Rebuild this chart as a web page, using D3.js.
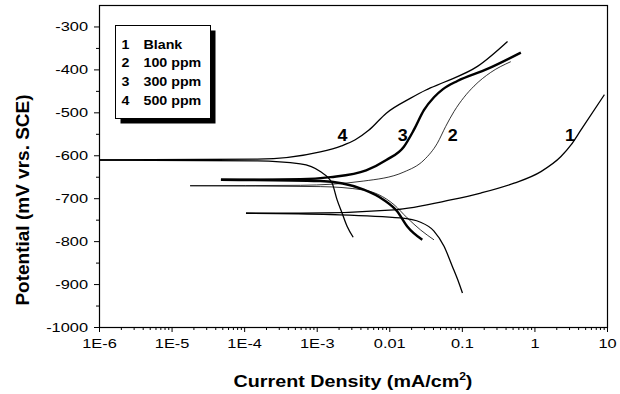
<!DOCTYPE html>
<html>
<head>
<meta charset="utf-8">
<script src="https://cdn.jsdelivr.net/npm/d3@7"></script>
<style>
  body { margin: 0; background: #fff; }
  svg { font-family: "Liberation Sans", Arial, sans-serif; }
</style>
</head>
<body>
<div id="chart"></div>
<script>
// legend / curve labels
const curveIds = ['1', '2', '3', '4'];
const legendLabels = ['Blank', '100 ppm', '300 ppm', '500 ppm'];
const xTickLabels = ['1E-6', '1E-5', '1E-4', '1E-3', '0.01', '0.1', '1', '10'];
const yTicks = [-1000, -900, -800, -700, -600, -500, -400, -300];

// [current density (mA/cm2), potential (mV vs SCE)]
const blankAnodic = [
  [1.06e-4, -735], [6.0e-4, -735], [0.0116, -727], [0.070, -704], [0.182, -688],
  [0.525, -665], [1.23, -638], [2.32, -603], [3.19, -576], [4.38, -541], [9.2, -459],
];
const blankCathodic = [
  [1.06e-4, -735], [1.55e-3, -738], [0.0143, -746], [0.027, -756], [0.041, -776],
  [0.0568, -812], [0.074, -859], [0.0914, -898], [0.102, -921],
];
const ppm100Anodic = [
  [1.8e-5, -671], [6.0e-4, -670], [4.45e-3, -660], [0.0159, -639], [0.0301, -611],
  [0.0459, -572], [0.0598, -533], [0.078, -498], [0.107, -465], [0.147, -439],
  [0.25, -407], [0.472, -382],
];
const ppm100Cathodic = [
  [1.8e-5, -671], [1.12e-3, -673], [4.45e-3, -681], [0.0116, -715], [0.0177, -746],
  [0.027, -774], [0.0413, -797],
];
const ppm300Anodic = [
  [4.79e-5, -657], [6.0e-4, -656], [1.55e-3, -651], [4.8e-3, -635], [9.1e-3, -611],
  [0.0159, -580], [0.0218, -541], [0.030, -495], [0.0413, -465], [0.055, -446],
  [0.0868, -427], [0.225, -399], [0.65, -361],
];
const ppm300Cathodic = [
  [4.79e-5, -657], [1.12e-3, -660], [4.45e-3, -680], [8.4e-3, -704], [0.0129, -731],
  [0.0177, -766], [0.0285, -797],
];
const ppm500Anodic = [
  [1.0e-6, -611], [1.52e-4, -609], [1.12e-3, -592], [2.2e-3, -578], [3.4e-3, -564],
  [5.2e-3, -542], [9.1e-3, -502], [0.0197, -467], [0.032, -448], [0.0568, -430],
  [0.164, -393], [0.426, -335],
];
const ppm500Cathodic = [
  [1.0e-6, -611], [1.52e-4, -613], [5.96e-4, -620], [1.12e-3, -638], [1.63e-3, -665],
  [1.91e-3, -704], [2.24e-3, -735], [2.63e-3, -766], [3.18e-3, -791],
];

const curves = [
  { id: '1', branches: [blankAnodic, blankCathodic], width: 1.3, label: [3.1, -566] },
  { id: '2', branches: [ppm100Anodic, ppm100Cathodic], width: 0.8, label: [0.0748, -566] },
  { id: '3', branches: [ppm300Anodic, ppm300Cathodic], width: 2.4, label: [0.0153, -566] },
  { id: '4', branches: [ppm500Anodic, ppm500Cathodic], width: 1.3, label: [2.26e-3, -566] },
];

const W = 620, H = 394;
const margin = { top: 5, right: 13, bottom: 67, left: 99 };
const width = W - margin.left - margin.right;
const height = H - margin.top - margin.bottom;

// the source figure's lettering is wider than Arial, so horizontal text is stretched
const tickStretch = 1.26;

const svg = d3.select('#chart').append('svg')
  .attr('width', W).attr('height', H);
const g = svg.append('g')
  .attr('transform', `translate(${margin.left},${margin.top})`);

const x = d3.scaleLog().domain([1e-6, 10]).range([0, width]);
const y = d3.scaleLinear().domain([-1000, -250]).range([height, 0]);

// minor ticks
const xMinor = [];
for (let e = -6; e < 1; e++) for (let k = 2; k <= 9; k++) xMinor.push(k * Math.pow(10, e));
const yMinor = d3.range(-950, -250, 100);

g.append('g')
  .attr('transform', `translate(0,${height})`)
  .call(d3.axisBottom(x).tickValues(xMinor).tickSize(3).tickFormat(''))
  .call(s => s.select('.domain').remove());
g.append('g')
  .call(d3.axisLeft(y).tickValues(yMinor).tickSize(3).tickFormat(''))
  .call(s => s.select('.domain').remove());

const xAxis = g.append('g')
  .attr('transform', `translate(0,${height})`)
  .call(d3.axisBottom(x).tickValues(d3.range(-6, 2).map(e => Math.pow(10, e)))
    .tickSize(5).tickPadding(7).tickFormat((d, i) => xTickLabels[i]));
xAxis.select('.domain').remove();
xAxis.selectAll('text')
  .style('font-size', '13px').attr('fill', '#000')
  .attr('transform', `scale(${tickStretch},1)`);

const yAxis = g.append('g')
  .call(d3.axisLeft(y).tickValues(yTicks).tickSize(5).tickPadding(6).tickFormat(d => String(d)));
yAxis.select('.domain').remove();
yAxis.selectAll('text')
  .style('font-size', '13px').attr('fill', '#000')
  .attr('x', -11 / tickStretch)
  .attr('transform', `scale(${tickStretch},1)`);

g.append('rect')
  .attr('x', 0.5).attr('y', 0.5)
  .attr('width', width).attr('height', height)
  .attr('fill', 'none').attr('stroke', '#000').attr('stroke-width', 1.2);

// axis titles
svg.append('text')
  .attr('transform', 'translate(29,200) rotate(-90)')
  .attr('text-anchor', 'middle')
  .style('font-size', '19px').style('font-weight', 'bold')
  .text('Potential (mV vrs. SCE)');

const xt = svg.append('text')
  .attr('transform', `translate(${margin.left + width / 2},387) scale(1.21,1)`)
  .attr('text-anchor', 'middle')
  .style('font-size', '16.3px').style('font-weight', 'bold');
xt.append('tspan').text('Current Density (mA/cm');
xt.append('tspan').attr('dy', -7).style('font-size', '10px').text('2');
xt.append('tspan').attr('dy', 7).text(')');

// curves
g.append('clipPath').attr('id', 'plotClip')
  .append('rect').attr('width', width).attr('height', height);

const line = d3.line()
  .x(d => x(d[0]))
  .y(d => y(d[1]))
  .curve(d3.curveMonotoneX);

const plot = g.append('g').attr('clip-path', 'url(#plotClip)');
curves.forEach(c => {
  c.branches.forEach(b => {
    plot.append('path')
      .datum(b)
      .attr('d', line)
      .attr('fill', 'none')
      .attr('stroke', '#000')
      .attr('stroke-width', c.width)
      .attr('stroke-linejoin', 'round');
  });
  g.append('text')
    .attr('transform', `translate(${x(c.label[0])},${y(c.label[1])}) scale(1.12,1)`)
    .attr('text-anchor', 'middle')
    .style('font-size', '16px').style('font-weight', 'bold')
    .text(c.id);
});

// legend
const legend = svg.append('g').attr('transform', 'translate(115.5,25.5)');
legend.append('rect')
  .attr('x', 5).attr('y', 5).attr('width', 95).attr('height', 93)
  .attr('fill', '#000');
legend.append('rect')
  .attr('width', 95).attr('height', 93)
  .attr('fill', '#fff').attr('stroke', '#000').attr('stroke-width', 1);
curveIds.forEach((id, i) => {
  const row = legend.append('g').attr('transform', `translate(0,${23 + i * 18.7})`);
  row.append('text').attr('transform', 'translate(6,0) scale(1.14,1)').text(id)
    .style('font-size', '12.5px').style('font-weight', 'bold');
  row.append('text').attr('transform', 'translate(28,0) scale(1.14,1)').text(legendLabels[i])
    .style('font-size', '12.5px').style('font-weight', 'bold');
});
</script>
</body>
</html>
